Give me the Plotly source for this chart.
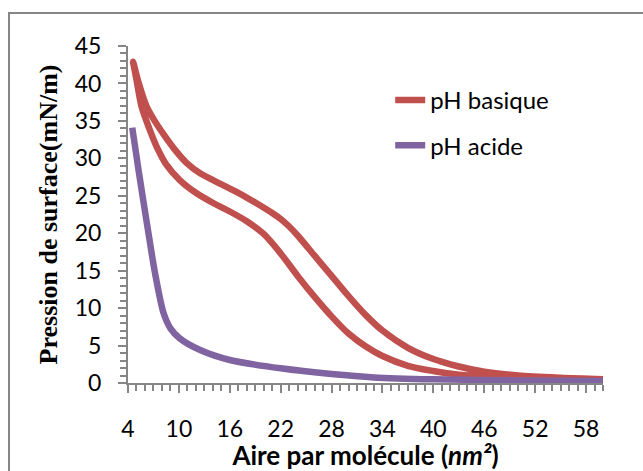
import plotly.graph_objects as go

# Data
basique_upper_x = [4.6, 5.2, 6.2, 7.2, 8.2, 9.5, 10.9, 12.5, 14.9, 17, 19, 21, 22, 23, 24, 26, 28, 30, 32, 34, 37, 40, 43, 46, 50, 55, 60]
basique_upper_y = [42.9, 40.3, 36.9, 34.9, 33.2, 31.2, 29.4, 28.0, 26.6, 25.4, 24.1, 22.7, 21.9, 20.9, 19.7, 17.0, 14.3, 11.6, 9.1, 7.0, 4.7, 3.2, 2.2, 1.5, 1.0, 0.7, 0.5]
basique_lower_x = [4.6, 5.0, 5.6, 6.5, 7.4, 8.5, 10.1, 12, 14.1, 16, 18, 20, 22, 24, 26, 28, 30, 32, 34, 37, 40, 43, 47, 52, 60]
basique_lower_y = [42.9, 40.5, 36.9, 34.0, 31.5, 29.2, 27.1, 25.4, 24.0, 22.9, 21.6, 19.9, 17.3, 14.3, 11.5, 8.9, 6.6, 4.9, 3.6, 2.3, 1.6, 1.1, 0.8, 0.6, 0.45]
acide_x = [4.5, 5.3, 6.3, 7.2, 8.2, 9.0, 10.1, 12.5, 16, 22, 28, 33, 40, 50, 60]
acide_y = [34.1, 28.0, 20.8, 14.6, 9.3, 7.3, 5.96, 4.4, 3.07, 1.96, 1.2, 0.75, 0.5, 0.35, 0.27]

x_ticks = [4, 10, 16, 22, 28, 34, 40, 46, 52, 58]
y_ticks = [0, 5, 10, 15, 20, 25, 30, 35, 40, 45]

RED = "#C0504D"
PURPLE = "#8064A2"
AXIS = "#868686"

loop_x = basique_upper_x[::-1] + basique_lower_x[1:]
loop_y = basique_upper_y[::-1] + basique_lower_y[1:]

fig = go.Figure()
fig.add_trace(go.Scatter(x=loop_x, y=loop_y, mode="lines", name="pH basique",
                         line=dict(color=RED, width=6.5, shape="spline", smoothing=0.8),
                         legendgroup="a"))
fig.add_trace(go.Scatter(x=acide_x, y=acide_y, mode="lines", name="pH acide",
                         line=dict(color=PURPLE, width=6.5, shape="spline", smoothing=0.8),
                         legendgroup="b"))

tickfont = dict(family="Lato", size=23, color="#000000")

fig.update_layout(
    width=643, height=471,
    margin=dict(l=128, r=40, t=46, b=88, autoexpand=False),
    paper_bgcolor="white", plot_bgcolor="white",
    showlegend=True,
    legend=dict(x=0.552, y=0.905, xanchor="left", yanchor="top",
                font=dict(family="Lato", size=24, color="#000000"),
                tracegroupgap=11, bgcolor="rgba(0,0,0,0)"),
    xaxis=dict(range=[4, 60], tickvals=x_ticks, ticktext=[str(v) for v in x_ticks],
               automargin=False,
               showgrid=False, zeroline=False, showline=True, linecolor=AXIS, linewidth=2,
               ticks="outside", ticklen=8, tickwidth=2, tickcolor=AXIS,
               minor=dict(ticks="outside", ticklen=6, tickwidth=1.5, tickcolor=AXIS, dtick=1, tick0=4, showgrid=False),
               tickfont=tickfont, ticklabelstandoff=16,
               title=dict(text="<b>Aire par molécule (<i>nm²</i>)</b>",
                          font=dict(family="Lato", size=26, color="#000000"), standoff=2)),
    yaxis=dict(range=[0, 45], tickvals=y_ticks, ticktext=[str(v) for v in y_ticks],
               automargin=False,
               showgrid=False, zeroline=False, showline=True, linecolor=AXIS, linewidth=2,
               ticks="outside", ticklen=8, tickwidth=2, tickcolor=AXIS,
               minor=dict(ticks="outside", ticklen=6, tickwidth=1.5, tickcolor=AXIS, dtick=1, tick0=0, showgrid=False),
               tickfont=tickfont, ticklabelstandoff=12,
               title=dict(text="<b>Pression de surface(mN/m)</b>",
                          font=dict(family="Liberation Serif", size=26, color="#000000"), standoff=10)),
    xaxis2=dict(overlaying="x", range=[4, 60], tickvals=x_ticks, showticklabels=False,
                showgrid=False, zeroline=False, showline=False, automargin=False,
                ticks="inside", ticklen=8, tickwidth=2, tickcolor=AXIS, side="bottom"),
    yaxis2=dict(overlaying="y", range=[0, 45], tickvals=y_ticks, showticklabels=False,
                showgrid=False, zeroline=False, showline=False, automargin=False,
                ticks="inside", ticklen=8, tickwidth=2, tickcolor=AXIS, side="left"),
    shapes=[dict(type="rect", xref="paper", yref="paper",
                 x0=-0.2505, x1=1.3, y0=-0.5, y1=1.098,
                 line=dict(color=AXIS, width=2), fillcolor="rgba(0,0,0,0)", layer="below")],
)

fig.write_html("out.html",
               config={"displayModeBar": False},
               post_script="document.body.style.margin='0';document.body.style.overflow='hidden';")
